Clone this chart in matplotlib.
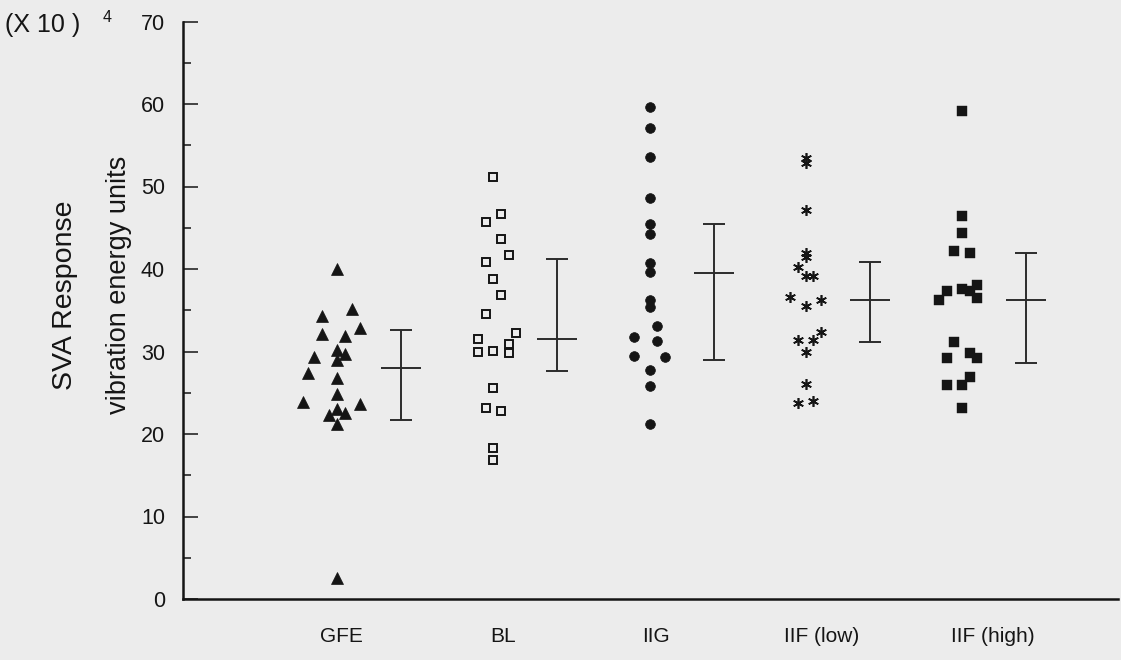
import matplotlib
matplotlib.use("Agg")
import matplotlib.pyplot as plt
import numpy as np

plt.rcParams['font.family'] = ['Liberation Sans', 'DejaVu Sans']

categories = ["GFE", "BL", "IIG", "IIF (low)", "IIF (high)"]

gfe_vals = [40.0, 35.1, 34.3, 32.9, 32.1, 31.9, 30.2, 29.7, 29.0, 29.3,
            27.4, 26.8, 24.8, 23.9, 23.6, 23.0, 22.3, 22.5, 21.2, 2.6]
gfe_cols = [0, 2, -2, 3, -2, 1, 0, 1, 0, -3,
            -3.8, 0, 0, -4.5, 3, 0, -1, 1, 0, 0]

bl_vals = [51.1, 46.7, 45.7, 43.6, 41.7, 40.9, 38.8, 36.8, 34.6, 32.2,
           31.5, 30.9, 29.9, 30.1, 29.8, 25.6, 23.1, 22.8, 18.3, 16.8]
bl_cols = [0, 1, -1, 1, 2, -1, 0, 1, -1, 3,
           -2, 2, -2, 0, 2, 0, -1, 1, 0, 0]

iig_vals = [59.6, 57.1, 53.6, 48.6, 45.5, 44.2, 40.7, 39.6, 36.3, 35.4,
            33.1, 31.7, 31.3, 29.5, 29.3, 27.8, 25.8, 21.2]
iig_cols = [0, 0, 0, 0, 0, 0, 0, 0, 0, 0,
            1, -2, 1, -2, 2, 0, 0, 0]

iifl_vals = [53.4, 52.8, 47.2, 42.0, 41.4, 40.2, 39.2, 39.2, 36.6, 36.3,
             35.5, 32.4, 31.4, 31.4, 29.9, 26.1, 23.7, 24.0]
iifl_cols = [0, 0, 0, 0, 0, -1, 0, 1, -2, 2,
             0, 2, -1, 1, 0, 0, -1, 1]

iifh_vals = [59.2, 46.4, 44.4, 42.2, 41.9, 38.1, 37.6, 37.3, 37.3, 36.5,
             36.2, 31.2, 29.2, 29.8, 29.2, 26.9, 26.0, 26.0, 23.2]
iifh_cols = [0, 0, 0, -1, 1, 2, 0, -2, 1, 2,
             -3, -1, -2, 1, 2, 1, -2, 0, 0]

means = [28.0, 31.5, 39.5, 36.2, 36.2]
upper = [32.6, 41.2, 45.5, 40.9, 41.9]
lower = [21.7, 27.6, 29.0, 31.2, 28.6]

label_shift = [0.03, 0.06, 0.04, 0.10, 0.20]

W, H = 1121, 660
fig = plt.figure(figsize=(W / 100, H / 100), dpi=100)
bg = '#ececec'
fig.patch.set_facecolor(bg)
ax = fig.add_axes([183 / W, 61 / H, 935 / W, 577.5 / H])
ax.set_facecolor(bg)

ink = '#151515'
col_w = 0.049

groups = [
    (gfe_vals, gfe_cols, dict(marker='^', ms=8.5, mfc=ink, mec=ink, mew=0.5)),
    (bl_vals, bl_cols, dict(marker='s', ms=5.8, mfc='none', mec=ink, mew=1.4)),
    (iig_vals, iig_cols, dict(marker='o', ms=7.0, mfc=ink, mec=ink, mew=0.5)),
    (iifl_vals, iifl_cols, dict(marker=(6, 2, 0), ms=7.8, mfc=ink, mec=ink, mew=1.2)),
    (iifh_vals, iifh_cols, dict(marker='s', ms=7.0, mfc=ink, mec=ink, mew=0.3)),
]

for i, (vals, cols, st) in enumerate(groups):
    xs = i + np.array(cols) * col_w
    ax.plot(xs, vals, linestyle='none', **st)

bar_off = 0.41
cap_hw = 0.07
mean_hw = 0.128
bx = np.arange(len(categories)) + bar_off
lc = '#2b2b2b'
ax.vlines(bx, lower, upper, color=lc, lw=1.4)
ax.hlines(upper, bx - cap_hw, bx + cap_hw, color=lc, lw=1.4)
ax.hlines(lower, bx - cap_hw, bx + cap_hw, color=lc, lw=1.4)
ax.hlines(means, bx - mean_hw, bx + mean_hw, color=lc, lw=1.4)

ax.set_xlim((183 - 337) / 156.25, (1118 - 337) / 156.25)
ax.set_ylim(0, 70)

for s in ['top', 'right']:
    ax.spines[s].set_visible(False)
for s in ['left', 'bottom']:
    ax.spines[s].set_linewidth(1.8)
    ax.spines[s].set_color(ink)

ax.set_yticks(np.arange(0, 71, 10))
ax.set_yticks(np.arange(5, 70, 10), minor=True)
ax.tick_params(axis='y', which='major', direction='in', length=11, width=1.1,
               color=ink, labelsize=15.5, pad=13, labelcolor=ink)
ax.tick_params(axis='y', which='minor', direction='in', length=6, width=1.1, color=ink)

ax.set_xticks(np.arange(len(categories)) + np.array(label_shift))
ax.set_xticklabels(categories)
ax.tick_params(axis='x', which='both', length=0, labelsize=15, pad=20, labelcolor=ink)

fig.text(5 / W, 1 - 25 / H, "(X 10 )", fontsize=18, color=ink, ha='left', va='center')
fig.text(103 / W, 1 - 18 / H, "4", fontsize=11.5, color=ink, ha='left', va='center')

fig.text(65 / W, 1 - 295 / H, "SVA Response", fontsize=20.5, color=ink,
         rotation=90, ha='center', va='center')
fig.text(119 / W, 1 - 285 / H, "vibration energy units", fontsize=19.5, color=ink,
         rotation=90, ha='center', va='center')

fig.savefig("out.png", dpi=100, facecolor=bg)
